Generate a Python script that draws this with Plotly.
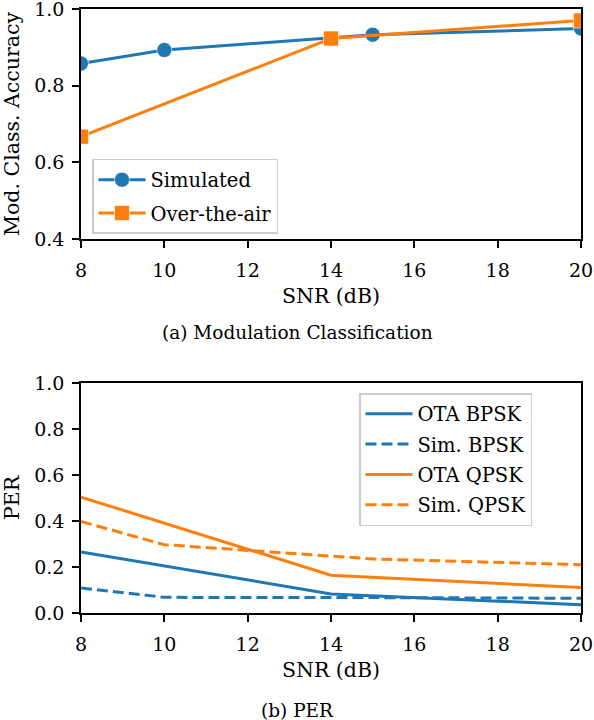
import plotly.graph_objects as go
from plotly.subplots import make_subplots

# modulation classification accuracy
sim_snr = [8, 10, 15, 20]
sim_acc = [0.858, 0.893, 0.933, 0.949]
ota_snr = [8, 14, 20]
ota_acc = [0.667, 0.923, 0.970]

# packet error rate
ota_bpsk = [0.265, 0.083, 0.036]
sim_bpsk = [0.109, 0.068, 0.067, 0.064]
ota_qpsk = [0.504, 0.164, 0.111]
sim_qpsk = [0.398, 0.297, 0.235, 0.210]

x_ticks = [8, 10, 12, 14, 16, 18, 20]

BLUE = '#1f77b4'
ORANGE = '#ff7f0e'
FONT = 'DejaVu Serif, serif'
FS = 19
TITLE_FS = 20.5
LEG_FS = 19.5

fig = make_subplots(rows=2, cols=1)

fig.add_trace(go.Scatter(x=sim_snr, y=sim_acc, mode='lines+markers', name='Simulated',
                         line=dict(color=BLUE, width=3),
                         marker=dict(symbol='circle', size=15, color=BLUE,
                                     line=dict(color='rgba(255,255,255,0.6)', width=1)),
                         legend='legend', legendgroup='sim'), row=1, col=1)
fig.add_trace(go.Scatter(x=ota_snr, y=ota_acc, mode='lines+markers', name='Over-the-air',
                         line=dict(color=ORANGE, width=3),
                         marker=dict(symbol='square', size=15, color=ORANGE,
                                     line=dict(color='rgba(255,255,255,0.6)', width=1)),
                         legend='legend', legendgroup='ota'), row=1, col=1)

dash = '11px,5px'
fig.add_trace(go.Scatter(x=ota_snr, y=ota_bpsk, mode='lines', name='OTA BPSK',
                         line=dict(color=BLUE, width=3),
                         legend='legend2', legendgroup='g1'), row=2, col=1)
fig.add_trace(go.Scatter(x=sim_snr, y=sim_bpsk, mode='lines', name='Sim. BPSK',
                         line=dict(color=BLUE, width=3, dash=dash),
                         legend='legend2', legendgroup='g2'), row=2, col=1)
fig.add_trace(go.Scatter(x=ota_snr, y=ota_qpsk, mode='lines', name='OTA QPSK',
                         line=dict(color=ORANGE, width=3),
                         legend='legend2', legendgroup='g3'), row=2, col=1)
fig.add_trace(go.Scatter(x=sim_snr, y=sim_qpsk, mode='lines', name='Sim. QPSK',
                         line=dict(color=ORANGE, width=3, dash=dash),
                         legend='legend2', legendgroup='g4'), row=2, col=1)

axis_style = dict(showline=True, mirror=True, linecolor='black', linewidth=1.5,
                  ticks='outside', ticklen=7, tickwidth=1.5, tickcolor='black',
                  showgrid=False, zeroline=False, automargin=False,
                  ticklabeloverflow='allow',
                  tickfont=dict(family=FONT, size=FS, color='black'))
title_font = dict(family=FONT, size=TITLE_FS, color='black')

fig.update_xaxes(range=[8, 20], tickvals=x_ticks, ticklabelstandoff=6, **axis_style)
fig.update_xaxes(title=dict(text='SNR (dB)', standoff=9, font=title_font))
fig.update_yaxes(ticklabelstandoff=4, **axis_style)
fig.update_yaxes(range=[0.4, 1.0], tickvals=[0.4, 0.6, 0.8, 1.0], tickformat='.1f',
                 title=dict(text='Mod. Class. Accuracy', standoff=9, font=title_font),
                 row=1, col=1)
fig.update_yaxes(range=[0, 1.0], tickvals=[0, 0.2, 0.4, 0.6, 0.8, 1.0], tickformat='.1f',
                 title=dict(text='PER', standoff=9, font=title_font), row=2, col=1)

legend_style = dict(xanchor='left', yanchor='top',
                    bgcolor='rgba(255,255,255,0.8)', bordercolor='#cccccc', borderwidth=1.5,
                    font=dict(family=FONT, size=LEG_FS), itemwidth=47)

# plot area: x 81..581 px, top panel y 9..239, bottom panel y 383..613
fig.update_layout(
    width=594, height=720,
    margin=dict(l=81, r=13, t=9, b=107),
    plot_bgcolor='white', paper_bgcolor='white',
    font=dict(family=FONT, size=FS, color='black'),
    xaxis=dict(domain=[0, 1]), yaxis=dict(domain=[0.6192, 1.0]),
    xaxis2=dict(domain=[0, 1]), yaxis2=dict(domain=[0.0, 0.3808]),
    legend=dict(x=0.022, y=0.7517, tracegroupgap=5, **legend_style),
    legend2=dict(x=0.556, y=0.3642, tracegroupgap=2, **legend_style),
    annotations=[
        dict(text='(a) Modulation Classification', x=0.432, y=0.4652, xref='paper', yref='paper',
             showarrow=False, xanchor='center', yanchor='middle', font=dict(family=FONT, size=18.5)),
        dict(text='(b) PER', x=0.432, y=-0.1606, xref='paper', yref='paper',
             showarrow=False, xanchor='center', yanchor='middle', font=dict(family=FONT, size=18.5)),
    ],
)

# drop the default 8px body margin so the figure sits flush in the window
fig.write_html('out.html', config={'displayModeBar': False},
               post_script="document.body.style.margin='0';")
